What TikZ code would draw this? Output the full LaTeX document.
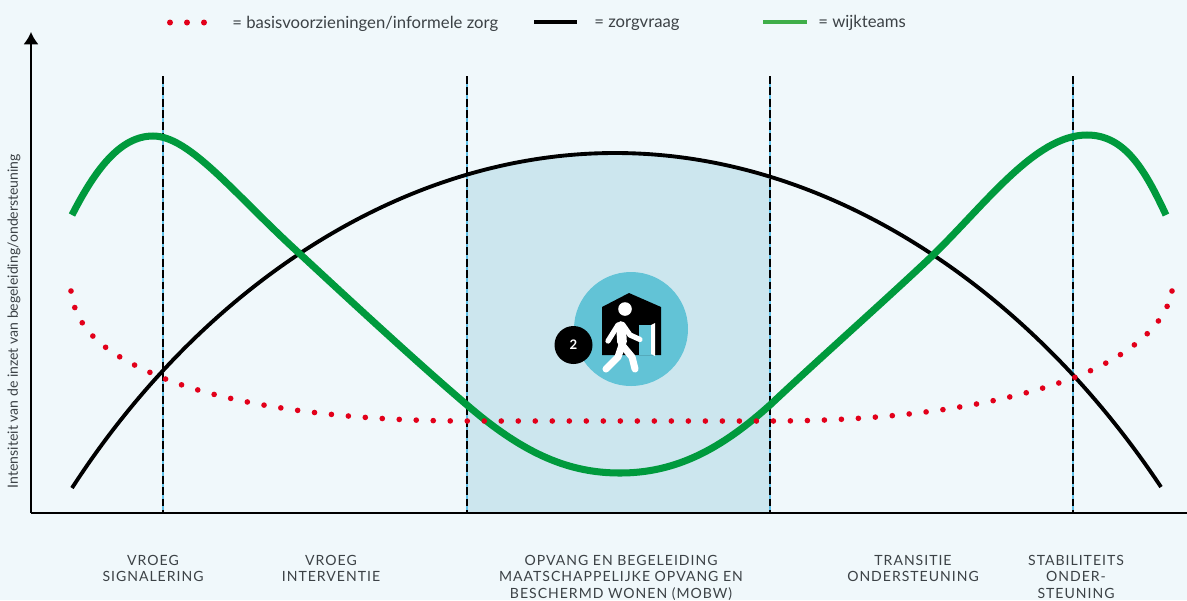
\documentclass[tikz,border=0pt]{standalone}
\usepackage{xcolor}
\usepackage{fontspec}
\setmainfont{Lato}
\usetikzlibrary{arrows.meta, positioning}
\definecolor{achtergrond}{HTML}{F0F8FB}
\definecolor{vlak}{HTML}{CCE6EE}
\definecolor{cirkel}{HTML}{62C3D6}
\definecolor{wijkgroen}{HTML}{009A3D}
\definecolor{legendagroen}{HTML}{3FAE49}
\definecolor{stippen}{HTML}{E2001A}
\definecolor{lijnblauw}{HTML}{5FC0E8}
\definecolor{tekst}{HTML}{3C4246}
\newfontfamily\spatiefont[LetterSpace=7]{Lato}
\tikzset{
  fase/.style={anchor=north, align=center, inner sep=0pt, text=tekst, font=\spatiefont\fontsize{8}{9.3}\selectfont},
  legenda/.style={anchor=base west, inner sep=0pt, text=tekst, font=\fontsize{9.5}{11}\selectfont},
  grens/.style={line width=1.2pt, lijnblauw},
  grensstreep/.style={line width=.8pt, black, dash pattern=on 4.5pt off 2pt},
  stippenlijn/.style={stippen, line width=3.2pt, line cap=round, dash pattern=on 0pt off 9.68pt},
  persoon/.style={white, line width=4pt, line cap=round, line join=round}
}
\begin{document}
\begin{tikzpicture}[x=0.02cm, y=-0.02cm]
  \useasboundingbox (0,0) rectangle (1187,600);
  \fill[achtergrond] (0,0) rectangle (1187,600);
  \clip (0,0) rectangle (1187,600);

  % vlak onder de zorgvraag
  \begin{scope}
    \clip (467,0) rectangle (770,513);
    \fill[vlak] (72,513) -- (72,488) .. controls (200,290) and (400,153) .. (615,153) .. controls (830,153) and (1030,290) .. (1161,487) -- (1161,513) -- cycle;
  \end{scope}

  % grenzen van de fasen
  \foreach \x in {163,467,770,1073} {
    \draw[grens] (\x,76) -- (\x,513);
    \draw[grensstreep] (\x,76) -- (\x,513);
  }

  % assen
  \draw[-{Latex[length=7pt,width=8.5pt]}, line width=.8pt] (31,513) -- (31,32);
  \draw[line width=.8pt] (31,513) -- (1187,513);

  % lijnen
  \draw[line width=2.2pt, black] (72,488) .. controls (200,290) and (400,153) .. (615,153) .. controls (830,153) and (1030,290) .. (1161,487);
  \draw[wijkgroen, line width=4pt] (72,215) .. controls (95,170) and (120,136) .. (153,136) .. controls (190,136) and (235,195) .. (300,254) .. controls (355,305) and (420,365) .. (467,405) .. controls (525,455) and (570,473) .. (620,473) .. controls (675,473) and (720,450) .. (770,405) .. controls (820,358) and (880,305) .. (930,258) .. controls (985,205) and (1035,135) .. (1087,135) .. controls (1125,135) and (1145,170) .. (1166,215);
  \draw[stippenlijn] (71,291) .. controls (76,335) and (115,358) .. (163,378) .. controls (230,405) and (340,421) .. (467,421) -- (770,421) .. controls (900,421) and (1000,405) .. (1073,378) .. controls (1120,360) and (1165,330) .. (1172,291);
  \fill[stippen] (1172,291) circle (2.8);

  % pictogram
  \fill[cirkel] (631,329) circle (57);
  \fill[black] (602,307) -- (629,293) -- (661,307) -- (661,355) -- (602,355) -- cycle;
  \fill[cirkel] (639,325) rectangle (652,355);
  \fill[white] (651,325) -- (655,323) -- (655,356) -- (651,354) -- cycle;
  \fill[white] (625,309) circle (6.8);
  \draw[persoon, line width=5.5pt] (621,326) -- (622,342);
  \draw[persoon] (622,345) -- (618,357) -- (606,369);
  \draw[persoon] (622,345) -- (632,357) -- (635,369);
  \draw[persoon, line width=3pt] (618,325) -- (608,341);
  \draw[persoon, line width=3pt] (623,325) -- (630,335) -- (640,339.5);
  \node[circle, fill=black, text=white, minimum size=38*0.02cm, inner sep=0pt, font=\bfseries\fontsize{7.5}{9}\selectfont] (twee) at (573.5,345) {2};

  % legenda
  \fill[stippen] (170,22.5) circle (3) (187,22.5) circle (3) (204,22.5) circle (3);
  \node[legenda] (basis) at (232,28) {= basisvoorzieningen/informele zorg};
  \draw[line width=2.8pt, black] (534,22) -- (577,22);
  \node[legenda] (zorg) at (594,27) {= zorgvraag};
  \draw[line width=2.8pt, legendagroen] (763,22) -- (807,22);
  \node[legenda] (wijk) at (818,27) {= wijkteams};

  % as-tekst
  \node[rotate=90, inner sep=0pt, text=tekst, font=\fontsize{8}{9}\selectfont] (intensiteit) at (14,321) {Intensiteit van de inzet van begeleiding/ondersteuning};

  % fasen
  \node[fase] (signalering) at (153,555) {VROEG\\SIGNALERING};
  \node[fase] (interventie) at (331,555) {VROEG\\INTERVENTIE};
  \node[fase] (opvang) at (621,555) {OPVANG EN BEGELEIDING\\MAATSCHAPPELIJKE OPVANG EN\\BESCHERMD WONEN (MOBW)};
  \node[fase] (transitie) at (913,555) {TRANSITIE\\ONDERSTEUNING};
  \node[fase] (stabiliteit) at (1076,555) {STABILITEITS\\ONDER-\\STEUNING};
\end{tikzpicture}
\end{document}
